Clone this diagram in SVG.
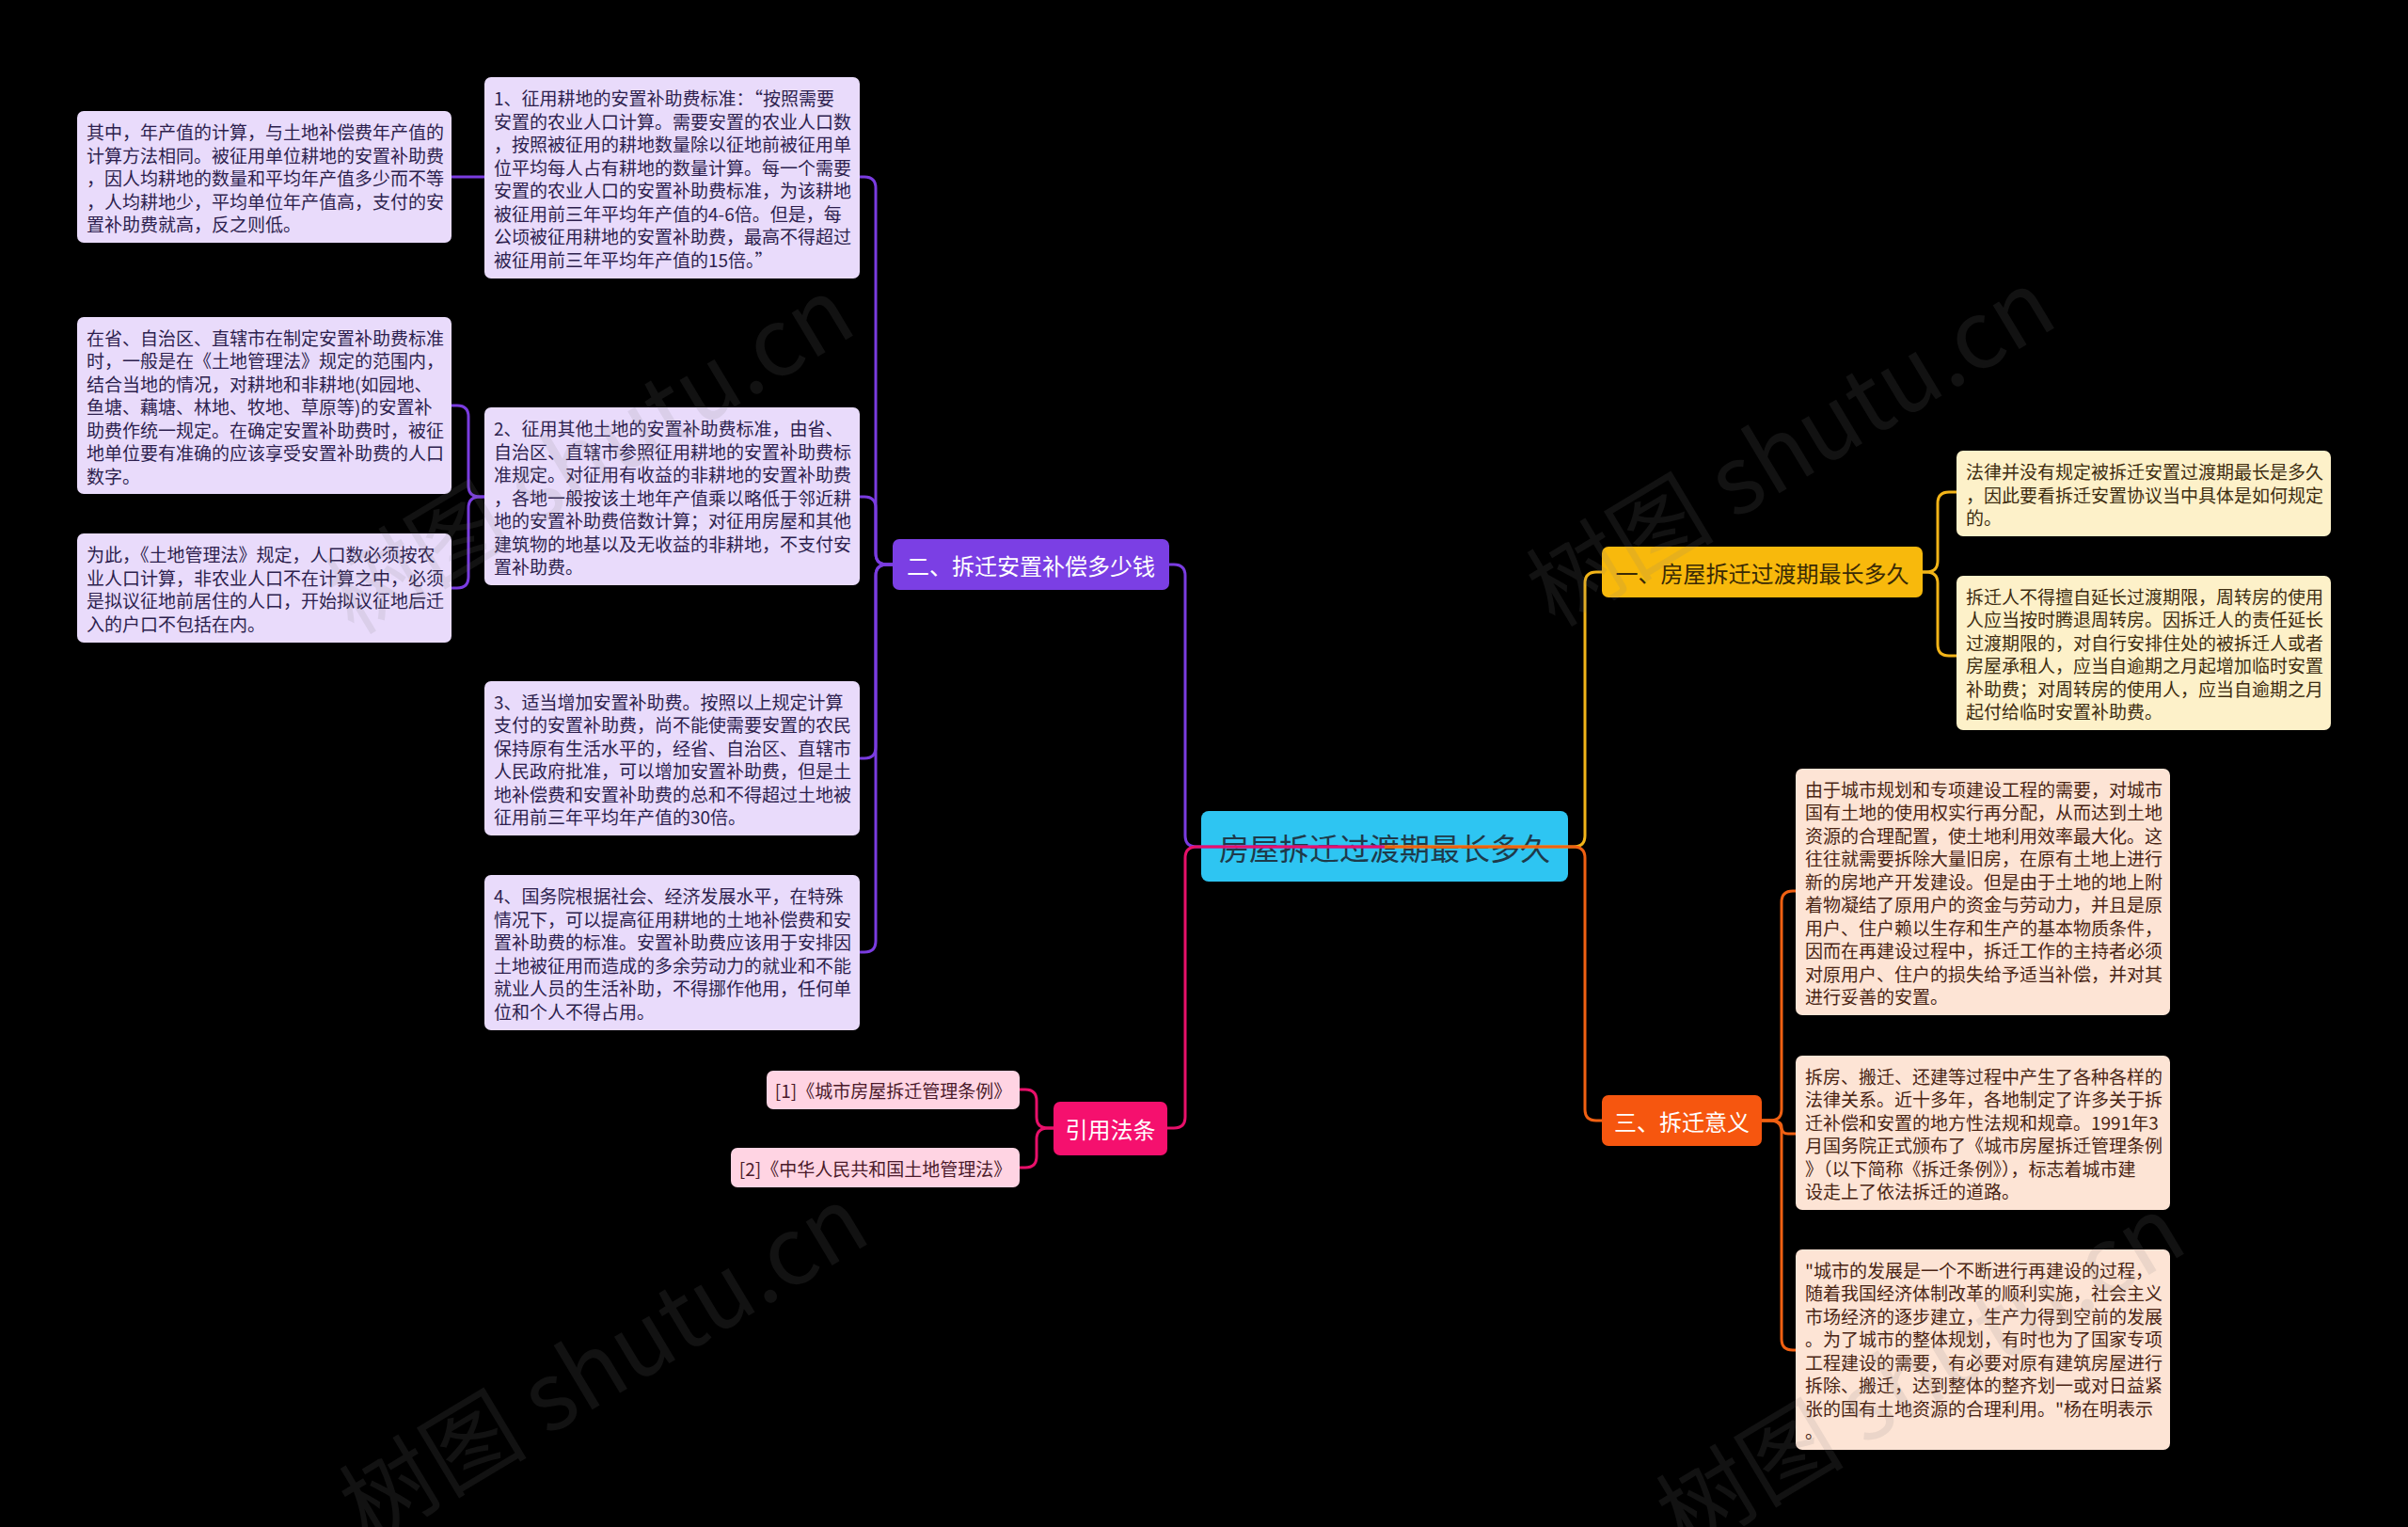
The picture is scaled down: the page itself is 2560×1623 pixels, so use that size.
<svg xmlns="http://www.w3.org/2000/svg" width="2560" height="1623" viewBox="0 0 2560 1623">
<style>
.t{font-family:"Noto Sans CJK SC","Noto Sans",sans-serif;}
.leaf{font-size:19px;dominant-baseline:central;}
.lp{fill:#E9DBFB;}
.lpt{fill:#2D1F4E;}
.cr{fill:#FDF1C9;}
.crt{fill:#3D2C10;}
.pc{fill:#FDE4D5;}
.pct{fill:#4A2414;}
.ci{fill:#FFD4E3;}
.cit{fill:#4A1A2A;}
.br{font-size:24px;dominant-baseline:central;text-anchor:middle;}
.c{fill:none;stroke-width:3;}
.wm{font-family:"Noto Sans CJK SC","Liberation Sans",sans-serif;font-size:100px;fill:#808080;fill-opacity:0.14;}
</style>
<rect x="0" y="0" width="2560" height="1623" fill="#000000"/>

<g id="root">
<rect x="1277" y="862" width="390" height="75" rx="8" fill="#2EC5F2"/>
<text class="t" x="1472" y="900" font-size="32" dominant-baseline="central" text-anchor="middle" fill="#1E3A4A">房屋拆迁过渡期最长多久</text>
</g>

<g id="branch2">
<rect x="949" y="573" width="294" height="54" rx="7" fill="#7B3FE4"/>
<text class="t br" x="1096" y="600" fill="#FFFFFF">二、拆迁安置补偿多少钱</text>
</g>
<g id="branchRef">
<rect x="1120" y="1171" width="121" height="57" rx="7" fill="#F5106E"/>
<text class="t br" x="1180.5" y="1199.5" fill="#FFFFFF">引用法条</text>
</g>
<g id="branch1">
<rect x="1703" y="581" width="341" height="54" rx="7" fill="#F8B90C"/>
<text class="t br" x="1873.5" y="608" fill="#3A2A05">一、房屋拆迁过渡期最长多久</text>
</g>
<g id="branch3">
<rect x="1703" y="1164" width="170" height="54" rx="7" fill="#F6560F"/>
<text class="t br" x="1788" y="1191" fill="#FFFFFF">三、拆迁意义</text>
</g>

<g id="box1">
<rect class="lp" x="515" y="82" width="399" height="214" rx="7"/>
<text class="t leaf lpt" x="525" y="103.25"><tspan x="525" dy="0">1、征用耕地的安置补助费标准：“按照需要</tspan><tspan x="525" dy="24.5">安置的农业人口计算。需要安置的农业人口数</tspan><tspan x="525" dy="24.5">，按照被征用的耕地数量除以征地前被征用单</tspan><tspan x="525" dy="24.5">位平均每人占有耕地的数量计算。每一个需要</tspan><tspan x="525" dy="24.5">安置的农业人口的安置补助费标准，为该耕地</tspan><tspan x="525" dy="24.5">被征用前三年平均年产值的4-6倍。但是，每</tspan><tspan x="525" dy="24.5">公顷被征用耕地的安置补助费，最高不得超过</tspan><tspan x="525" dy="24.5">被征用前三年平均年产值的15倍。”</tspan></text>
</g>
<g id="leaf1">
<rect class="lp" x="82" y="118" width="398" height="140" rx="7"/>
<text class="t leaf lpt" x="92" y="139"><tspan x="92" dy="0">其中，年产值的计算，与土地补偿费年产值的</tspan><tspan x="92" dy="24.5">计算方法相同。被征用单位耕地的安置补助费</tspan><tspan x="92" dy="24.5">，因人均耕地的数量和平均年产值多少而不等</tspan><tspan x="92" dy="24.5">，人均耕地少，平均单位年产值高，支付的安</tspan><tspan x="92" dy="24.5">置补助费就高，反之则低。</tspan></text>
</g>
<g id="box2">
<rect class="lp" x="515" y="433" width="399" height="189" rx="7"/>
<text class="t leaf lpt" x="525" y="454"><tspan x="525" dy="0">2、征用其他土地的安置补助费标准，由省、</tspan><tspan x="525" dy="24.5">自治区、直辖市参照征用耕地的安置补助费标</tspan><tspan x="525" dy="24.5">准规定。对征用有收益的非耕地的安置补助费</tspan><tspan x="525" dy="24.5">，各地一般按该土地年产值乘以略低于邻近耕</tspan><tspan x="525" dy="24.5">地的安置补助费倍数计算；对征用房屋和其他</tspan><tspan x="525" dy="24.5">建筑物的地基以及无收益的非耕地，不支付安</tspan><tspan x="525" dy="24.5">置补助费。</tspan></text>
</g>
<g id="leaf2">
<rect class="lp" x="82" y="337" width="398" height="188" rx="7"/>
<text class="t leaf lpt" x="92" y="357.5"><tspan x="92" dy="0">在省、自治区、直辖市在制定安置补助费标准</tspan><tspan x="92" dy="24.5">时，一般是在《土地管理法》规定的范围内，</tspan><tspan x="92" dy="24.5">结合当地的情况，对耕地和非耕地(如园地、</tspan><tspan x="92" dy="24.5">鱼塘、藕塘、林地、牧地、草原等)的安置补</tspan><tspan x="92" dy="24.5">助费作统一规定。在确定安置补助费时，被征</tspan><tspan x="92" dy="24.5">地单位要有准确的应该享受安置补助费的人口</tspan><tspan x="92" dy="24.5">数字。</tspan></text>
</g>
<g id="leaf3">
<rect class="lp" x="82" y="567" width="398" height="116" rx="7"/>
<text class="t leaf lpt" x="92" y="588.25"><tspan x="92" dy="0">为此，《土地管理法》规定，人口数必须按农</tspan><tspan x="92" dy="24.5">业人口计算，非农业人口不在计算之中，必须</tspan><tspan x="92" dy="24.5">是拟议征地前居住的人口，开始拟议征地后迁</tspan><tspan x="92" dy="24.5">入的户口不包括在内。</tspan></text>
</g>
<g id="box3">
<rect class="lp" x="515" y="724" width="399" height="164" rx="7"/>
<text class="t leaf lpt" x="525" y="744.75"><tspan x="525" dy="0">3、适当增加安置补助费。按照以上规定计算</tspan><tspan x="525" dy="24.5">支付的安置补助费，尚不能使需要安置的农民</tspan><tspan x="525" dy="24.5">保持原有生活水平的，经省、自治区、直辖市</tspan><tspan x="525" dy="24.5">人民政府批准，可以增加安置补助费，但是土</tspan><tspan x="525" dy="24.5">地补偿费和安置补助费的总和不得超过土地被</tspan><tspan x="525" dy="24.5">征用前三年平均年产值的30倍。</tspan></text>
</g>
<g id="box4">
<rect class="lp" x="515" y="930" width="399" height="165" rx="7"/>
<text class="t leaf lpt" x="525" y="951.25"><tspan x="525" dy="0">4、国务院根据社会、经济发展水平，在特殊</tspan><tspan x="525" dy="24.5">情况下，可以提高征用耕地的土地补偿费和安</tspan><tspan x="525" dy="24.5">置补助费的标准。安置补助费应该用于安排因</tspan><tspan x="525" dy="24.5">土地被征用而造成的多余劳动力的就业和不能</tspan><tspan x="525" dy="24.5">就业人员的生活补助，不得挪作他用，任何单</tspan><tspan x="525" dy="24.5">位和个人不得占用。</tspan></text>
</g>

<g id="ref1">
<rect class="ci" x="815" y="1138" width="269" height="41" rx="7"/>
<text class="t cit" x="949.5" y="1158.5" font-size="19" dominant-baseline="central" text-anchor="middle">[1]《城市房屋拆迁管理条例》</text>
</g>
<g id="ref2">
<rect class="ci" x="777" y="1220" width="307" height="42" rx="7"/>
<text class="t cit" x="930.5" y="1241" font-size="19" dominant-baseline="central" text-anchor="middle">[2]《中华人民共和国土地管理法》</text>
</g>

<g id="leafA">
<rect class="cr" x="2080" y="479" width="398" height="91" rx="7"/>
<text class="t leaf crt" x="2090" y="500"><tspan x="2090" dy="0">法律并没有规定被拆迁安置过渡期最长是多久</tspan><tspan x="2090" dy="24.5">，因此要看拆迁安置协议当中具体是如何规定</tspan><tspan x="2090" dy="24.5">的。</tspan></text>
</g>
<g id="leafB">
<rect class="cr" x="2080" y="612" width="398" height="164" rx="7"/>
<text class="t leaf crt" x="2090" y="632.75"><tspan x="2090" dy="0">拆迁人不得擅自延长过渡期限，周转房的使用</tspan><tspan x="2090" dy="24.5">人应当按时腾退周转房。因拆迁人的责任延长</tspan><tspan x="2090" dy="24.5">过渡期限的，对自行安排住处的被拆迁人或者</tspan><tspan x="2090" dy="24.5">房屋承租人，应当自逾期之月起增加临时安置</tspan><tspan x="2090" dy="24.5">补助费；对周转房的使用人，应当自逾期之月</tspan><tspan x="2090" dy="24.5">起付给临时安置补助费。</tspan></text>
</g>
<g id="leafC">
<rect class="pc" x="1909" y="817" width="398" height="262" rx="7"/>
<text class="t leaf pct" x="1919" y="837.75"><tspan x="1919" dy="0">由于城市规划和专项建设工程的需要，对城市</tspan><tspan x="1919" dy="24.5">国有土地的使用权实行再分配，从而达到土地</tspan><tspan x="1919" dy="24.5">资源的合理配置，使土地利用效率最大化。这</tspan><tspan x="1919" dy="24.5">往往就需要拆除大量旧房，在原有土地上进行</tspan><tspan x="1919" dy="24.5">新的房地产开发建设。但是由于土地的地上附</tspan><tspan x="1919" dy="24.5">着物凝结了原用户的资金与劳动力，并且是原</tspan><tspan x="1919" dy="24.5">用户、住户赖以生存和生产的基本物质条件，</tspan><tspan x="1919" dy="24.5">因而在再建设过程中，拆迁工作的主持者必须</tspan><tspan x="1919" dy="24.5">对原用户、住户的损失给予适当补偿，并对其</tspan><tspan x="1919" dy="24.5">进行妥善的安置。</tspan></text>
</g>
<g id="leafD">
<rect class="pc" x="1909" y="1122" width="398" height="164" rx="7"/>
<text class="t leaf pct" x="1919" y="1142.75"><tspan x="1919" dy="0">拆房、搬迁、还建等过程中产生了各种各样的</tspan><tspan x="1919" dy="24.5">法律关系。近十多年，各地制定了许多关于拆</tspan><tspan x="1919" dy="24.5">迁补偿和安置的地方性法规和规章。1991年3</tspan><tspan x="1919" dy="24.5">月国务院正式颁布了《城市房屋拆迁管理条例</tspan><tspan x="1919" dy="24.5">》（以下简称《拆迁条例》），标志着城市建</tspan><tspan x="1919" dy="24.5">设走上了依法拆迁的道路。</tspan></text>
</g>
<g id="leafE">
<rect class="pc" x="1909" y="1328" width="398" height="213" rx="7"/>
<text class="t leaf pct" x="1919" y="1348.75"><tspan x="1919" dy="0">"城市的发展是一个不断进行再建设的过程，</tspan><tspan x="1919" dy="24.5">随着我国经济体制改革的顺利实施，社会主义</tspan><tspan x="1919" dy="24.5">市场经济的逐步建立，生产力得到空前的发展</tspan><tspan x="1919" dy="24.5">。为了城市的整体规划，有时也为了国家专项</tspan><tspan x="1919" dy="24.5">工程建设的需要，有必要对原有建筑房屋进行</tspan><tspan x="1919" dy="24.5">拆除、搬迁，达到整体的整齐划一或对日益紧</tspan><tspan x="1919" dy="24.5">张的国有土地资源的合理利用。"杨在明表示</tspan><tspan x="1919" dy="24.5">。</tspan></text>
</g>

<g id="connectors">
<path class="c" stroke="#7A3CE0" d="M1472,900 H1272 Q1260,900 1260,888 V612 Q1260,600 1248,600 H1243"/>
<path class="c" stroke="#7A3CE0" d="M949,600 H943 Q931,600 931,588 V200 Q931,188 919,188 H914"/>
<path class="c" stroke="#7A3CE0" d="M949,600 H943 Q931,600 931,588 V540 Q931,528 919,528 H914"/>
<path class="c" stroke="#7A3CE0" d="M949,600 H943 Q931,600 931,612 V794 Q931,806 919,806 H914"/>
<path class="c" stroke="#7A3CE0" d="M949,600 H943 Q931,600 931,612 V1000 Q931,1012 919,1012 H914"/>
<path class="c" stroke="#7A3CE0" d="M515,188 H480"/>
<path class="c" stroke="#7A3CE0" d="M515,528 H510 Q498,528 498,516 V443 Q498,431 486,431 H480"/>
<path class="c" stroke="#7A3CE0" d="M515,528 H510 Q498,528 498,540 V613 Q498,625 486,625 H480"/>
<path class="c" stroke="#E8106A" d="M1472,900 H1272 Q1260,900 1260,912 V1187 Q1260,1199 1248,1199 H1241"/>
<path class="c" stroke="#E8106A" d="M1120,1199 H1114 Q1102,1199 1102,1187 V1170 Q1102,1158 1090,1158 H1084"/>
<path class="c" stroke="#E8106A" d="M1120,1199 H1114 Q1102,1199 1102,1211 V1229 Q1102,1241 1090,1241 H1084"/>
<path class="c" stroke="#F2B418" d="M1472,900 H1673 Q1685,900 1685,888 V620 Q1685,608 1697,608 H1703"/>
<path class="c" stroke="#F2B418" d="M2044,608 H2048 Q2060,608 2060,596 V535 Q2060,523 2072,523 H2080"/>
<path class="c" stroke="#F2B418" d="M2044,608 H2048 Q2060,608 2060,620 V685 Q2060,697 2072,697 H2080"/>
<path class="c" stroke="#F06012" d="M1472,900 H1673 Q1685,900 1685,912 V1179 Q1685,1191 1697,1191 H1703"/>
<path class="c" stroke="#F06012" d="M1873,1191 H1882 Q1894,1191 1894,1179 V959 Q1894,947 1906,947 H1909"/>
<path class="c" stroke="#F06012" d="M1873,1191 H1882 Q1894,1191 1894,1198 Q1894,1205 1901,1205 H1909"/>
<path class="c" stroke="#F06012" d="M1873,1191 H1882 Q1894,1191 1894,1203 V1423 Q1894,1435 1906,1435 H1909"/>
</g>

<g id="watermarks">
<text class="wm" x="645" y="514" text-anchor="middle" transform="rotate(-31 645 514)">树图 shutu.cn</text>
<text class="wm" x="1922" y="506" text-anchor="middle" transform="rotate(-31 1922 506)">树图 shutu.cn</text>
<text class="wm" x="660" y="1480" text-anchor="middle" transform="rotate(-31 660 1480)">树图 shutu.cn</text>
<text class="wm" x="2060" y="1490" text-anchor="middle" transform="rotate(-31 2060 1490)">树图 shutu.cn</text>
</g>
</svg>
